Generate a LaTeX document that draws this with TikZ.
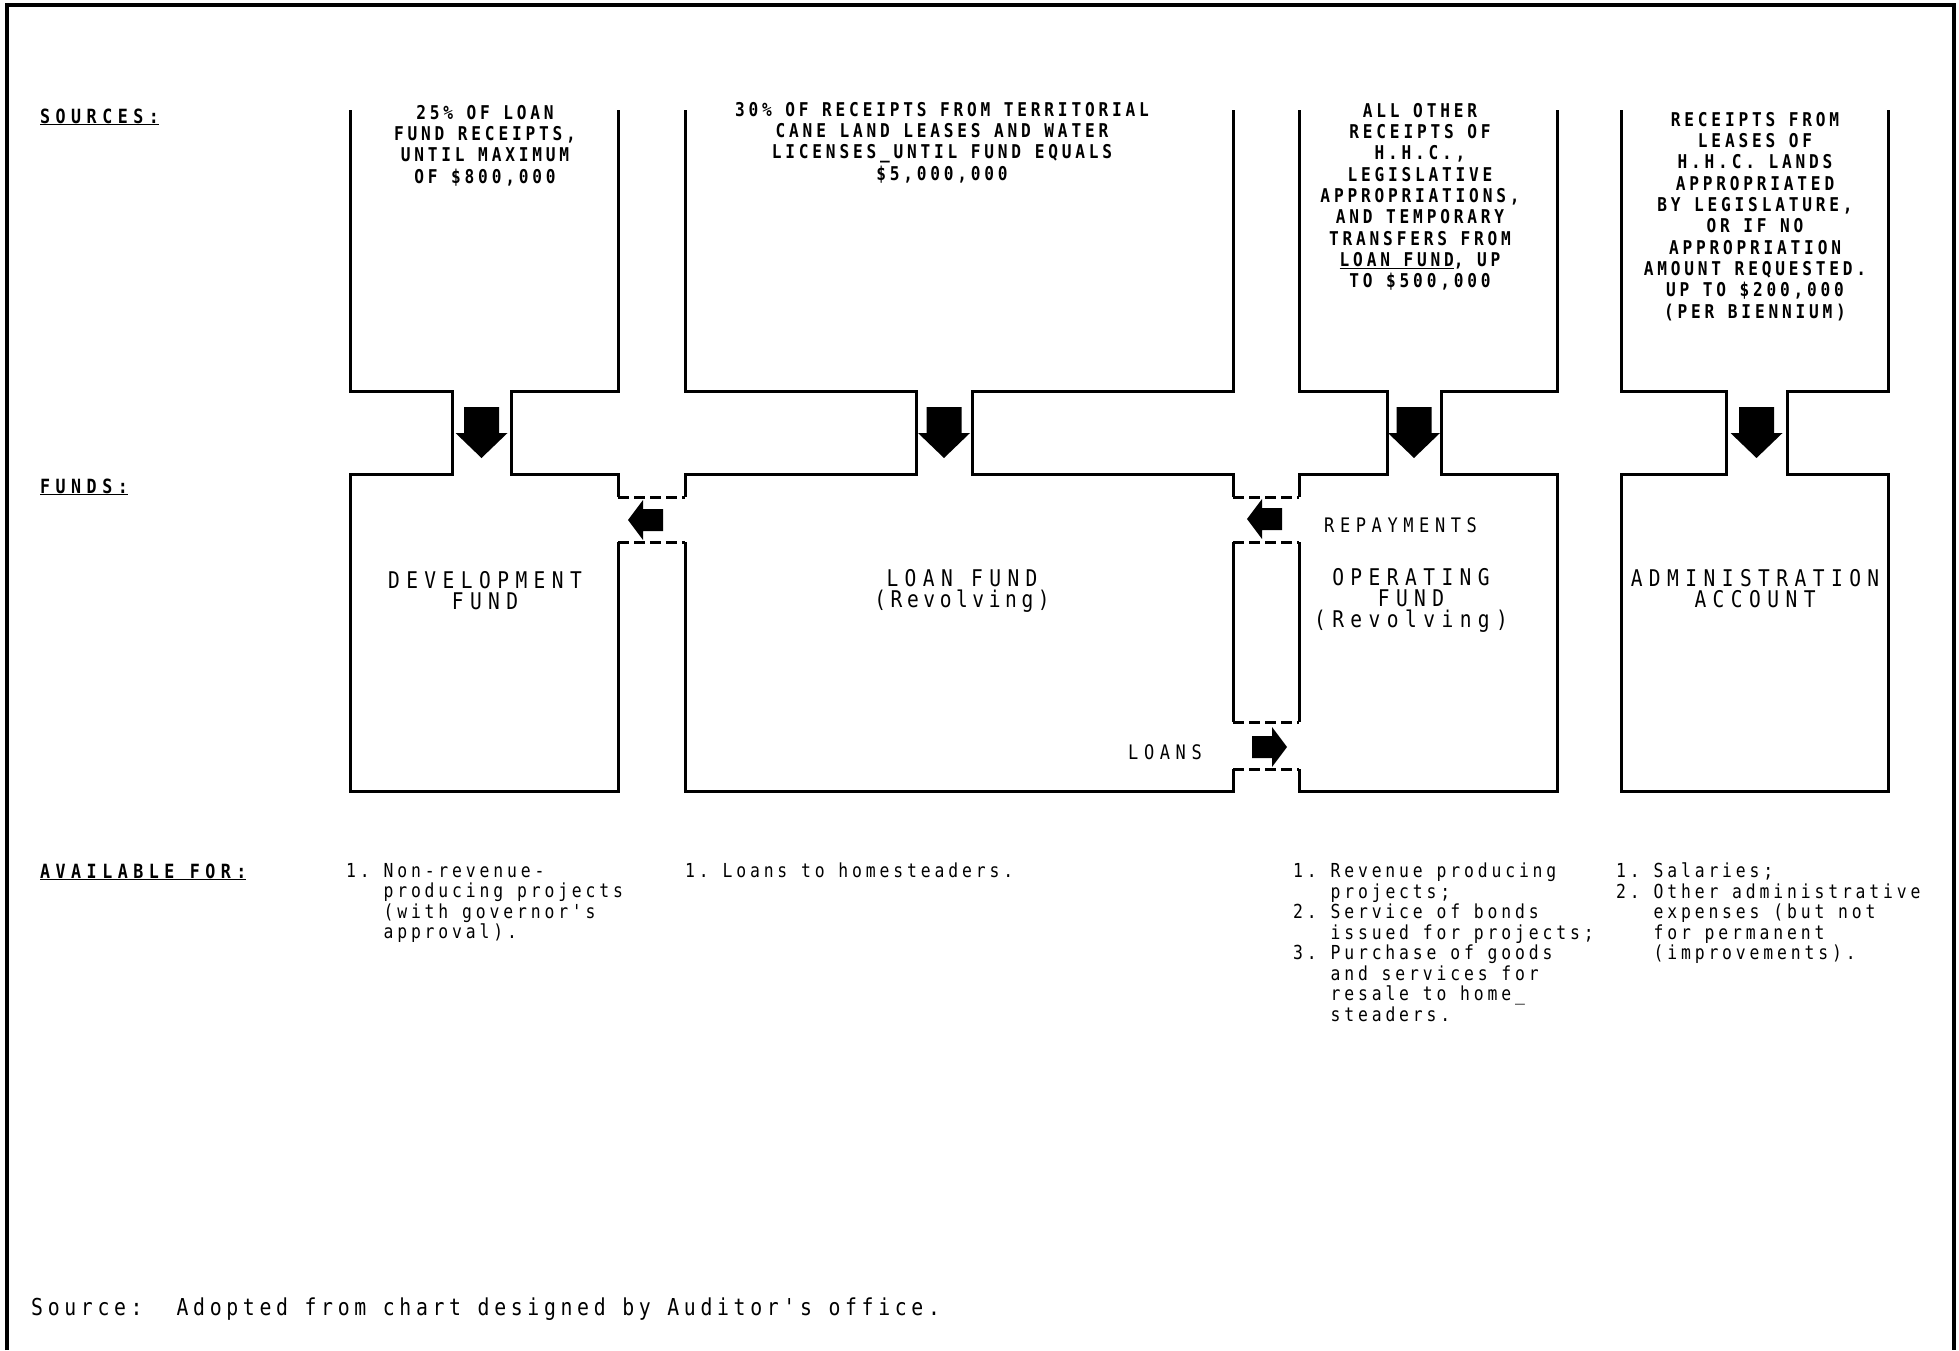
\documentclass[tikz,border=0pt]{standalone}
\usepackage{fontspec}
\newfontfamily\tfont[FakeStretch=0.85,LetterSpace=20]{DejaVu Sans Mono}
\newfontfamily\wfont[FakeStretch=0.85,LetterSpace=28]{DejaVu Sans Mono}
\begin{document}
\begin{tikzpicture}[x=1pt,y=-1pt,
 wall/.style={line width=3pt},
 gap/.style={line width=3pt,dash pattern=on 11pt off 5pt},
 srctext/.style={font=\tfont\bfseries\fontsize{19}{21.3}\selectfont,align=center,anchor=north,inner sep=0pt},
 fundtext/.style={font=\wfont\fontsize{23}{21}\selectfont,align=center,inner sep=0pt},
 flowtext/.style={font=\wfont\fontsize{20}{24}\selectfont,anchor=base west,inner sep=0pt},
 headtext/.style={font=\wfont\bfseries\fontsize{19.6}{24}\selectfont,anchor=base west,inner sep=0pt},
 avtext/.style={font=\tfont\fontsize{19.3}{20.5}\selectfont,align=left,anchor=north west,inner sep=0pt},
 downarr/.pic={\fill (-17.5,-26)--(17.5,-26)--(17.5,0)--(26,0)--(0,25)--(-26,0)--(-17.5,0)--cycle;},
 sidearr/.pic={\fill (-20,-11)--(0,-11)--(0,-20)--(15,0)--(0,20)--(0,11)--(-20,11)--cycle;}]
\useasboundingbox (0,0) rectangle (1959,1350);
\draw[line width=3.5pt] (7,1350) -- (7,5) -- (1954,5) -- (1954,1350);
% row labels
\node[headtext] (lblsrc) at (40,123) {\underline{SOURCES:}};
\node[headtext] (lblfund) at (40,493) {\underline{FUNDS:}};
\node[headtext] (lblavail) at (40,878) {\underline{AVAILABLE FOR:}};
% walls
\draw[wall] (350,110) -- (350,391) -- (452,391) -- (452,474) -- (350,474) -- (350,791) -- (618,791) -- (618,542);
\draw[wall] (618,497) -- (618,474) -- (511,474) -- (511,391) -- (618,391) -- (618,110);
\draw[wall] (685,110) -- (685,391) -- (916,391) -- (916,474) -- (685,474) -- (685,497);
\draw[wall] (685,542) -- (685,791) -- (1233,791) -- (1233,769);
\draw[wall] (1233,722) -- (1233,542);
\draw[wall] (1233,497) -- (1233,474) -- (972,474) -- (972,391) -- (1233,391) -- (1233,110);
\draw[wall] (1299,110) -- (1299,391) -- (1387,391) -- (1387,474) -- (1299,474) -- (1299,497);
\draw[wall] (1299,542) -- (1299,722);
\draw[wall] (1299,769) -- (1299,791) -- (1557,791) -- (1557,474) -- (1441,474) -- (1441,391) -- (1557,391) -- (1557,110);
\draw[wall] (1621,110) -- (1621,391) -- (1726,391) -- (1726,474) -- (1621,474) -- (1621,791) -- (1888,791) -- (1888,474) -- (1787,474) -- (1787,391) -- (1888,391) -- (1888,110);
\draw[gap] (618,497) -- (685,497) (618,542) -- (685,542);
\draw[gap] (1233,497) -- (1299,497) (1233,542) -- (1299,542);
\draw[gap] (1233,722) -- (1299,722) (1233,769) -- (1299,769);
% sources
\node[srctext] (srcdev) at (485,105) {25\% OF LOAN\\FUND RECEIPTS,\\UNTIL MAXIMUM\\OF \$800,000};
\node[srctext] (srcloan) at (942,102) {30\% OF RECEIPTS FROM TERRITORIAL\\CANE LAND LEASES AND WATER\\LICENSES\_UNTIL FUND EQUALS\\\$5,000,000};
\node[srctext] (srcop) at (1420,103) {ALL OTHER\\RECEIPTS OF\\H.H.C.,\\LEGISLATIVE\\APPROPRIATIONS,\\AND TEMPORARY\\TRANSFERS FROM\\\underline{LOAN FUND}, UP\\TO \$500,000};
\node[srctext] (srcadm) at (1755,112) {RECEIPTS FROM\\LEASES OF\\H.H.C. LANDS\\APPROPRIATED\\BY LEGISLATURE,\\OR IF NO\\APPROPRIATION\\AMOUNT REQUESTED.\\UP TO \$200,000\\(PER BIENNIUM)};
% arrows
\pic at (481.5,433) {downarr};
\pic at (944,433) {downarr};
\pic at (1414,433) {downarr};
\pic at (1756.5,433) {downarr};
\pic[rotate=180] at (643,520) {sidearr};
\pic[rotate=180] at (1262,519) {sidearr};
\pic at (1272,747) {sidearr};
% funds
\node[fundtext] (fdev) at (485,591) {DEVELOPMENT\\FUND};
\node[fundtext] (floan) at (962,591) {LOAN FUND\\{\tfont(Revolving)}};
\node[fundtext] (fop) at (1411,600) {OPERATING\\FUND\\(Revolving)};
\node[fundtext] (fadm) at (1755,589) {ADMINISTRATION\\ACCOUNT};
\node[flowtext] (repay) at (1324,532) {REPAYMENTS};
\node[flowtext] (loans) at (1128,759) {LOANS};
% available for
\node[avtext] (avdev) at (346,863) {1.~Non-revenue-\\\phantom{1.~}producing projects\\\phantom{1.~}(with governor's\\\phantom{1.~}approval).};
\node[avtext] (avloan) at (685,863) {1.~Loans to homesteaders.};
\node[avtext] (avop) at (1293,863) {1.~Revenue producing\\\phantom{1.~}projects;\\2.~Service of bonds\\\phantom{2.~}issued for projects;\\3.~Purchase of goods\\\phantom{3.~}and services for\\\phantom{3.~}resale to home\_\\\phantom{3.~}steaders.};
\node[avtext] (avadm) at (1616,863) {1.~Salaries;\\2.~Other administrative\\\phantom{2.~}expenses (but not\\\phantom{2.~}for permanent\\\phantom{2.~}(improvements).};
\node[font=\tfont\fontsize{23.3}{26}\selectfont,anchor=base west,inner sep=0pt] (note) at (31,1315) {Source:\hspace{34pt}Adopted from chart designed by Auditor's office.};
\end{tikzpicture}
\end{document}
